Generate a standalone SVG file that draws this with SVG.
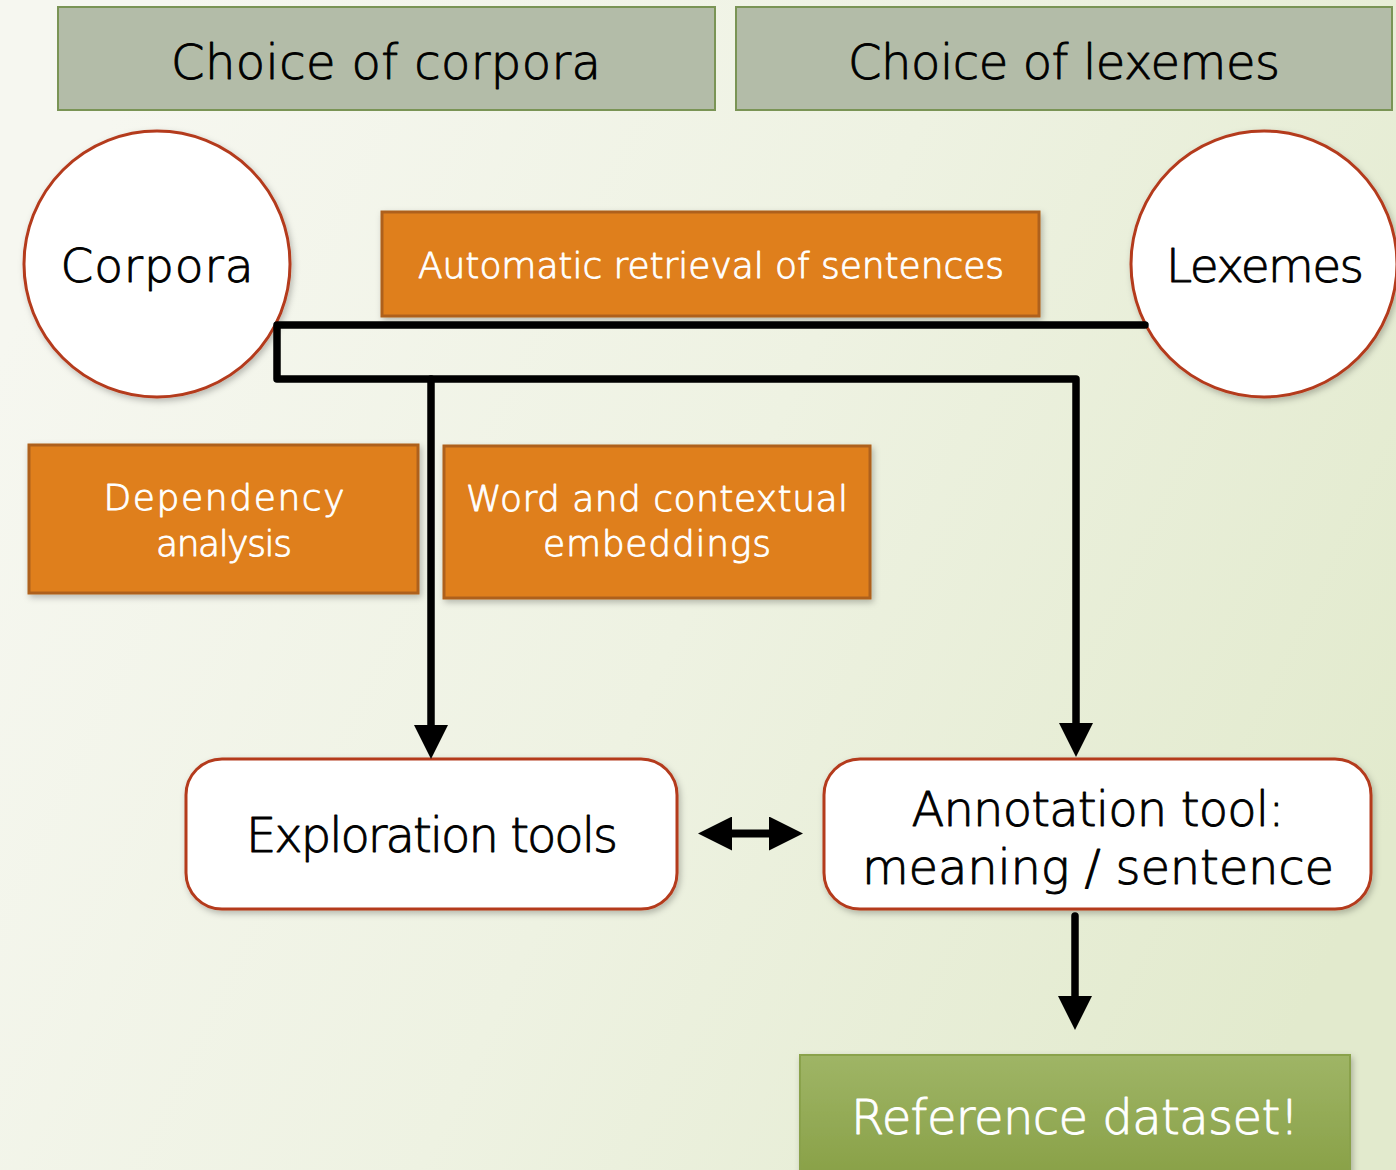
<svg xmlns="http://www.w3.org/2000/svg" width="1396" height="1170" viewBox="0 0 1396 1170">
  <defs>
    <linearGradient id="bg" x1="0" y1="0.3" x2="1" y2="0.7">
      <stop offset="0" stop-color="#f6f7f0"/>
      <stop offset="0.5" stop-color="#eef2e2"/>
      <stop offset="1" stop-color="#e2eacd"/>
    </linearGradient>
    <linearGradient id="greenFill" x1="0" y1="0" x2="0" y2="1">
      <stop offset="0" stop-color="#9fb566"/>
      <stop offset="1" stop-color="#88a046"/>
    </linearGradient>
    <filter id="shadow" x="-10%" y="-10%" width="125%" height="130%">
      <feDropShadow dx="2" dy="3" stdDeviation="3" flood-color="#000" flood-opacity="0.25"/>
    </filter>
    <marker id="head" viewBox="0 0 35 34" refX="0" refY="17" markerWidth="35" markerHeight="34" markerUnits="userSpaceOnUse" orient="auto-start-reverse">
      <path d="M0,0 L34,17 L0,34 Z" fill="#000"/>
    </marker>
    <style>
      .txt { font-family: "Century Gothic", "DejaVu Sans", "Liberation Sans", sans-serif; font-weight: 200; text-anchor: middle; stroke-width: 0.9; stroke-linejoin: round; }
      .dark { fill: #000; stroke: #000; }
      .light { fill: #fff; stroke: #fff; }
      .grey { fill: #b3bca8; stroke: #7a9455; stroke-width: 2; }
      .orange { fill: #df7f1a; stroke: #ae611b; stroke-width: 3; }
      .round { fill: #fff; stroke: #b43a1d; stroke-width: 3; }
      .circle { fill: #fff; stroke: #b43a1d; stroke-width: 3; }
      .green { fill: url(#greenFill); stroke: #8aa24c; stroke-width: 2; }
      .wire { fill: none; stroke: #000; stroke-width: 7.5; stroke-linejoin: round; stroke-linecap: round; }
      .wire-butt { fill: none; stroke: #000; stroke-width: 8; stroke-linecap: butt; }
    </style>
  </defs>

  <rect width="1396" height="1170" fill="url(#bg)"/>

  <g id="choice-corpora">
    <rect class="grey" x="58" y="7" width="657" height="103"/>
    <text class="txt dark" x="386" y="79" font-size="48" textLength="430">Choice of corpora</text>
  </g>
  <g id="choice-lexemes">
    <rect class="grey" x="736" y="7" width="656" height="103"/>
    <text class="txt dark" x="1064" y="79" font-size="48" textLength="432">Choice of lexemes</text>
  </g>

  <g id="retrieval">
    <rect class="orange" x="382" y="212" width="657" height="104" filter="url(#shadow)"/>
    <text class="txt light" x="711" y="278" font-size="36" textLength="586">Automatic retrieval of sentences</text>
  </g>

  <g id="corpora">
    <circle class="circle" cx="157" cy="264" r="133" filter="url(#shadow)"/>
    <text class="txt dark" x="157" y="282" font-size="47" textLength="193">Corpora</text>
  </g>
  <g id="lexemes">
    <circle class="circle" cx="1264" cy="264" r="133" filter="url(#shadow)"/>
    <text class="txt dark" x="1265" y="282" font-size="47" textLength="198">Lexemes</text>
  </g>

  <g id="dependency">
    <rect class="orange" x="29" y="445" width="389" height="148" filter="url(#shadow)"/>
    <text class="txt light" x="224" y="510" font-size="36" textLength="241">Dependency</text>
    <text class="txt light" x="224" y="556" font-size="36" textLength="136">analysis</text>
  </g>
  <g id="embeddings">
    <rect class="orange" x="444" y="446" width="426" height="152" filter="url(#shadow)"/>
    <text class="txt light" x="657" y="511" font-size="36" textLength="382">Word and contextual</text>
    <text class="txt light" x="657" y="556" font-size="36" textLength="228">embeddings</text>
  </g>

  <g id="exploration">
    <rect class="round" x="186" y="759" width="491" height="150" rx="36" filter="url(#shadow)"/>
    <text class="txt dark" x="432" y="852" font-size="48" textLength="372">Exploration tools</text>
  </g>
  <g id="annotation">
    <rect class="round" x="824" y="759" width="547" height="150" rx="36" filter="url(#shadow)"/>
    <text class="txt dark" x="1098" y="826" font-size="48" textLength="373">Annotation tool:</text>
    <text class="txt dark" x="1098" y="884" font-size="48" textLength="472">meaning / sentence</text>
  </g>

  <g id="reference">
    <rect class="green" x="800" y="1055" width="550" height="125" filter="url(#shadow)"/>
    <text class="txt light" x="1075" y="1134" font-size="48" textLength="448">Reference dataset!</text>
  </g>

  <g id="connectors">
    <path class="wire" d="M1145,325 H277 V379 H1076 V723" marker-end="url(#head)"/>
    <path class="wire" d="M431,379 V725" marker-end="url(#head)"/>
    <path class="wire-butt" d="M732,833.5 H769" marker-start="url(#head)" marker-end="url(#head)"/>
    <path class="wire" d="M1075,916 V996" marker-end="url(#head)"/>
  </g>
</svg>
